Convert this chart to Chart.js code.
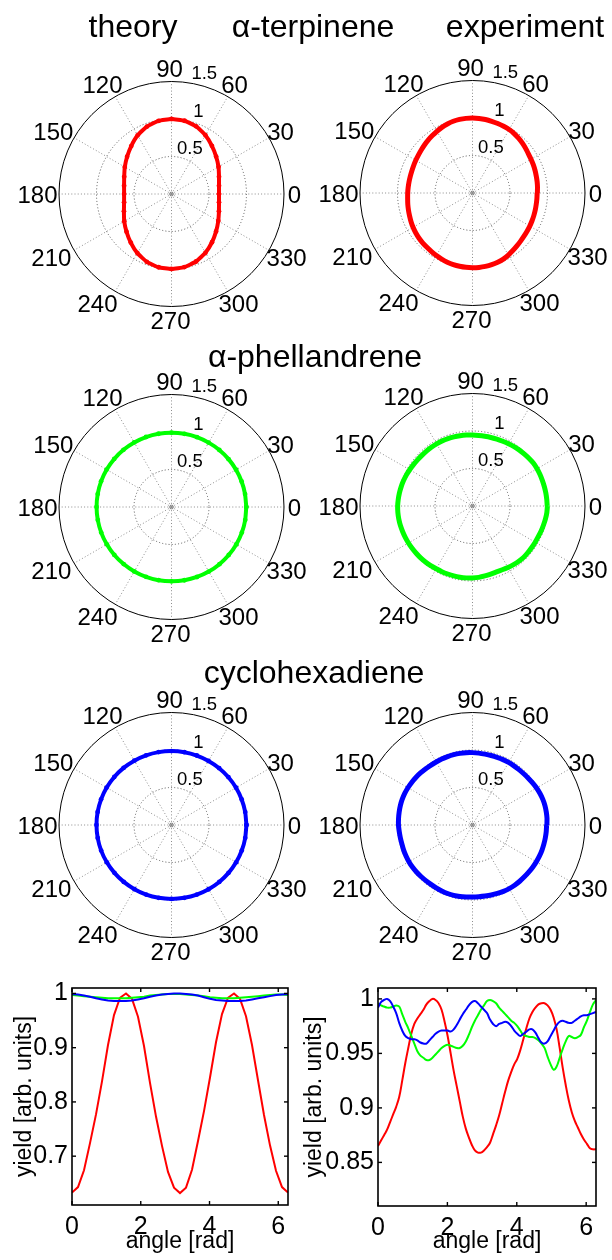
<!DOCTYPE html>
<html><head><meta charset="utf-8">
<script src="https://cdn.jsdelivr.net/npm/chart.js@4.4.1/dist/chart.umd.min.js"></script>
<style>
html,body{margin:0;padding:0;background:#fff;width:612px;height:1260px;overflow:hidden;position:relative;}
canvas.c{position:absolute;}
.t{position:absolute;font-family:'Liberation Sans',Arial,Helvetica,sans-serif;font-size:32px;line-height:32px;color:#000;white-space:nowrap;transform:translateX(-50%);z-index:5;}
</style></head><body>
<div class="t" style="left:133px;top:10px">theory</div>
<div class="t" style="left:313px;top:10px">α-terpinene</div>
<div class="t" style="left:525px;top:10px">experiment</div>
<div class="t" style="left:315px;top:340px">α-phellandrene</div>
<div class="t" style="left:314px;top:656px">cyclohexadiene</div>

<canvas id="p1" class="c" width="320" height="320" style="left:11px;top:34px"></canvas>
<canvas id="p2" class="c" width="320" height="320" style="left:312px;top:33px"></canvas>
<canvas id="p3" class="c" width="320" height="320" style="left:11px;top:347px"></canvas>
<canvas id="p4" class="c" width="320" height="320" style="left:312px;top:346px"></canvas>
<canvas id="p5" class="c" width="320" height="320" style="left:11px;top:665px"></canvas>
<canvas id="p6" class="c" width="320" height="320" style="left:312px;top:665px"></canvas>
<canvas id="l1" class="c" width="306" height="300" style="left:0px;top:960px"></canvas>
<canvas id="l2" class="c" width="322" height="300" style="left:290px;top:960px"></canvas>

<script>
// ---------------- data ----------------
const anglesTheory = [0,10,20,30,40,50,60,70,80,90,100,110,120,130,140,150,160,170,180,190,200,210,220,230,240,250,260,270,280,290,300,310,320,330,340,350,360];
const theoryTerpinene = [0.633,0.643,0.674,0.724,0.777,0.838,0.905,0.960,0.992,1.000,0.990,0.957,0.903,0.835,0.773,0.719,0.671,0.642,0.632,0.642,0.675,0.728,0.783,0.845,0.910,0.962,0.992,1.000,0.990,0.958,0.905,0.840,0.776,0.720,0.673,0.643,0.633];
const theoryPhellandrene = [0.997,0.996,0.995,0.994,0.993,0.992,0.991,0.991,0.991,0.991,0.992,0.993,0.994,0.996,0.997,0.998,0.999,0.999,0.999,0.998,0.997,0.996,0.995,0.993,0.992,0.991,0.991,0.991,0.992,0.993,0.994,0.995,0.996,0.997,0.998,0.998,0.997];
const theoryCyclohexadiene = [0.999,0.998,0.996,0.994,0.991,0.989,0.987,0.986,0.986,0.986,0.987,0.989,0.991,0.994,0.996,0.998,0.999,1.000,1.000,0.999,0.998,0.996,0.993,0.990,0.988,0.987,0.986,0.986,0.986,0.987,0.989,0.991,0.993,0.995,0.997,0.998,0.999];

const anglesExp = [0,5,10,15,20,25,30,35,40,45,50,55,60,65,70,75,80,85,90,95,100,105,110,115,120,125,130,135,140,145,150,155,160,165,170,175,180,185,190,195,200,205,210,215,220,225,230,235,240,245,250,255,260,265,270,275,280,285,290,295,300,305,310,315,320,325,330,335,340,345,350,355,360];
const expTerpinene = [0.865,0.870,0.875,0.880,0.887,0.894,0.901,0.910,0.925,0.941,0.955,0.968,0.977,0.982,0.986,0.990,0.995,0.998,1.000,0.999,0.996,0.990,0.979,0.966,0.950,0.934,0.920,0.906,0.892,0.881,0.873,0.866,0.861,0.859,0.859,0.861,0.864,0.868,0.876,0.884,0.893,0.904,0.915,0.925,0.933,0.940,0.945,0.953,0.963,0.973,0.982,0.988,0.992,0.995,0.996,0.996,0.994,0.990,0.983,0.972,0.955,0.937,0.921,0.907,0.896,0.888,0.882,0.876,0.871,0.867,0.863,0.862,0.862];
const expPhellandrene = [0.996,0.994,0.993,0.992,0.992,0.993,0.994,0.993,0.986,0.979,0.973,0.966,0.959,0.952,0.948,0.946,0.944,0.944,0.946,0.949,0.952,0.955,0.957,0.958,0.957,0.956,0.955,0.955,0.957,0.961,0.967,0.974,0.980,0.985,0.990,0.994,0.998,0.999,0.998,0.996,0.992,0.989,0.986,0.983,0.980,0.978,0.975,0.971,0.967,0.966,0.965,0.965,0.964,0.962,0.959,0.955,0.947,0.940,0.935,0.938,0.946,0.954,0.961,0.966,0.965,0.964,0.965,0.967,0.974,0.980,0.988,0.995,0.999];
const expCyclohexadiene = [0.992,0.997,0.999,1.000,0.998,0.993,0.987,0.978,0.971,0.966,0.964,0.963,0.963,0.962,0.960,0.959,0.959,0.962,0.965,0.968,0.970,0.971,0.971,0.971,0.970,0.972,0.976,0.981,0.986,0.990,0.994,0.997,0.998,0.996,0.993,0.990,0.987,0.981,0.977,0.975,0.977,0.978,0.979,0.978,0.975,0.971,0.968,0.966,0.968,0.970,0.972,0.972,0.969,0.964,0.960,0.959,0.961,0.966,0.971,0.976,0.979,0.980,0.979,0.978,0.978,0.980,0.982,0.984,0.985,0.985,0.986,0.987,0.988];

const spokeAngles = [0,30,60,90,120,150,180,210,240,270,300,330];
const spokeLabels = ['0','30','60','90','120','150','180','210','240','270','300','330'];
const ringValues = [0.5,1,1.5];
const ringLabels = ['0.5','1','1.5'];
const RMAX = 1.5;

const xTickValues = [0,2,4,6];
const xTickLabels = ['0','2','4','6'];
const yTicksTheory = [0.7,0.8,0.9,1];
const yTickLabelsTheory = ['0.7','0.8','0.9','1'];
const yTicksExp = [0.85,0.9,0.95,1];
const yTickLabelsExp = ['0.85','0.9','0.95','1'];

const RED = '#ff0000', GREEN = '#00ff00', BLUE = '#0000ff';
const FONT = "'Liberation Sans', Arial, Helvetica, sans-serif";

// ---------------- styling helpers ----------------
Chart.defaults.font.family = FONT;
Chart.defaults.color = '#000';
const labelNudge = {0:-3,30:0,60:0,90:-2,120:-6,150:-9,180:-8,210:-11,240:-11,270:-1,300:4,330:6};
const ringNudge = [[0,-1],[11,-1],[4,-2]];

const polarFrame = {
  id: 'polarFrame',
  beforeDatasetsDraw(chart) {
    const {ctx, scales: {x, y}} = chart;
    const cx = x.getPixelForValue(0), cy = y.getPixelForValue(0);
    const rpx = v => x.getPixelForValue(v) - cx;
    ctx.save();
    ctx.lineWidth = 1;
    ctx.setLineDash([1, 2.2]);
    ctx.strokeStyle = '#8c8c8c';
    spokeAngles.forEach(a => {
      const t = a * Math.PI / 180;
      ctx.beginPath();
      ctx.moveTo(cx, cy);
      ctx.lineTo(x.getPixelForValue(RMAX * Math.cos(t)), y.getPixelForValue(RMAX * Math.sin(t)));
      ctx.stroke();
    });
    ctx.strokeStyle = '#555';
    ringValues.forEach((r, i) => {
      if (i === ringValues.length - 1) { ctx.setLineDash([]); ctx.strokeStyle = '#000'; }
      ctx.beginPath();
      ctx.arc(cx, cy, rpx(r), 0, Math.PI * 2);
      ctx.stroke();
    });
    ctx.setLineDash([]);
    ctx.strokeStyle = '#777';
    ctx.beginPath(); ctx.arc(cx, cy, 1.8, 0, Math.PI * 2); ctx.stroke();
    ctx.restore();
  },
  afterDatasetsDraw(chart) {
    const {ctx, scales: {x, y}} = chart;
    ctx.save();
    ctx.fillStyle = '#000';
    ctx.font = '24px ' + FONT;
    ctx.textAlign = 'center';
    ctx.textBaseline = 'alphabetic';
    const rl = 1.68;
    spokeAngles.forEach((a, i) => {
      const t = a * Math.PI / 180;
      const px = x.getPixelForValue(rl * Math.cos(t)) + (labelNudge[a] || 0);
      const py = y.getPixelForValue(rl * Math.sin(t)) + 8.6;
      ctx.fillText(spokeLabels[i], px, py);
    });
    ctx.font = '18.5px ' + FONT;
    ctx.textAlign = 'left';
    const c82 = Math.cos(82 * Math.PI / 180), s82 = Math.sin(82 * Math.PI / 180);
    ringValues.forEach((r, i) => {
      const px = x.getPixelForValue((r + 0.025) * c82) + ringNudge[i][0];
      const py = y.getPixelForValue((r + 0.025) * s82) + ringNudge[i][1];
      ctx.fillText(ringLabels[i], px, py);
    });
    ctx.restore();
  }
};

function polarChart(id, angles, values, color, lineW, markers) {
  const data = angles.map((a, i) => ({
    x: values[i] * Math.cos(a * Math.PI / 180),
    y: values[i] * Math.sin(a * Math.PI / 180)
  }));
  new Chart(document.getElementById(id), {
    type: 'scatter',
    data: {datasets: [{data, showLine: true, borderColor: color, backgroundColor: color,
      borderWidth: lineW, pointRadius: markers ? 2.4 : 0, pointBorderWidth: 0,
      tension: 0.15, fill: false}]},
    options: {
      responsive: false, animation: false, devicePixelRatio: 1, events: [],
      layout: {padding: {left: 48, right: 47, top: 47.5, bottom: 47.5}},
      scales: {
        x: {type: 'linear', display: false, min: -RMAX, max: RMAX},
        y: {type: 'linear', display: false, min: -RMAX, max: RMAX}
      },
      plugins: {legend: {display: false}, tooltip: {enabled: false}}
    },
    plugins: [polarFrame]
  });
}

polarChart('p1', anglesTheory, theoryTerpinene, RED, 4, true);
polarChart('p2', anglesExp, expTerpinene, RED, 5, false);
polarChart('p3', anglesTheory, theoryPhellandrene, GREEN, 4, true);
polarChart('p4', anglesExp, expPhellandrene, GREEN, 5, false);
polarChart('p5', anglesTheory, theoryCyclohexadiene, BLUE, 4, true);
polarChart('p6', anglesExp, expCyclohexadiene, BLUE, 5, false);

// ---------------- line charts ----------------
const boxTicks = {
  id: 'boxTicks',
  afterDraw(chart) {
    const {ctx, chartArea: a, scales: {x, y}} = chart;
    ctx.save();
    ctx.strokeStyle = '#000';
    ctx.lineWidth = 1.6;
    ctx.strokeRect(a.left, a.top, a.right - a.left, a.bottom - a.top);
    ctx.lineWidth = 1.4;
    const L = 4;
    const seg = (x1, y1, x2, y2) => { ctx.beginPath(); ctx.moveTo(x1, y1); ctx.lineTo(x2, y2); ctx.stroke(); };
    x.ticks.forEach(t => { const p = x.getPixelForValue(t.value); seg(p, a.bottom, p, a.bottom - L); seg(p, a.top, p, a.top + L); });
    y.ticks.forEach(t => { const p = y.getPixelForValue(t.value); seg(a.left, p, a.left + L, p); seg(a.right, p, a.right - L, p); });
    ctx.restore();
  }
};

function series(angles, values) {
  return angles.map((a, i) => ({x: a * Math.PI / 180, y: values[i]}));
}

function lineChart(id, sets, tension, yMin, yMax, yTicks, yTickLabels, yAxisW, xAxisH, padRight) {
  new Chart(document.getElementById(id), {
    type: 'scatter',
    data: {datasets: sets.map(s => ({data: s.data, showLine: true, borderColor: s.color,
      backgroundColor: s.color, borderWidth: 2, pointRadius: 0, tension, order: s.order, fill: false}))},
    options: {
      responsive: false, animation: false, devicePixelRatio: 1, events: [],
      layout: {padding: {left: 0, right: padRight, top: 28, bottom: 0}},
      scales: {
        x: {type: 'linear', min: 0, max: 2 * Math.PI,
          afterBuildTicks: s => { s.ticks = xTickValues.map(v => ({value: v})); },
          afterFit: s => { s.height = xAxisH; },
          ticks: {font: {size: 25}, color: '#000', padding: 7, maxRotation: 0, autoSkip: false,
            callback: (v, i) => xTickLabels[i]},
          grid: {display: false, drawTicks: false},
          border: {display: false},
          title: {display: true, text: 'angle [rad]', color: '#000', font: {size: 23}, padding: {top: 0, bottom: 5}}
        },
        y: {type: 'linear', min: yMin, max: yMax,
          afterBuildTicks: s => { s.ticks = yTicks.map(v => ({value: v})); },
          afterFit: s => { s.width = yAxisW; },
          ticks: {font: {size: 25}, color: '#000', padding: 4, autoSkip: false,
            callback: (v, i) => yTickLabels[i]},
          grid: {display: false, drawTicks: false},
          border: {display: false},
          title: {display: true, text: 'yield [arb. units]', color: '#000', font: {size: 23}, padding: {top: 11.2, bottom: 0}}
        }
      },
      plugins: {legend: {display: false}, tooltip: {enabled: false}}
    },
    plugins: [boxTicks]
  });
}

lineChart('l1', [
  {data: series(anglesTheory, theoryTerpinene), color: RED, order: 3},
  {data: series(anglesTheory, theoryPhellandrene), color: GREEN, order: 2},
  {data: series(anglesTheory, theoryCyclohexadiene), color: BLUE, order: 1}
], 0, 0.61, 1.01, yTicksTheory, yTickLabelsTheory, 72, 55, 18);

lineChart('l2', [
  {data: series(anglesExp, expTerpinene), color: RED, order: 3},
  {data: series(anglesExp, expPhellandrene), color: GREEN, order: 2},
  {data: series(anglesExp, expCyclohexadiene), color: BLUE, order: 1}
], 0.4, 0.81, 1.01, yTicksExp, yTickLabelsExp, 88, 54, 16);
</script>
</body></html>
